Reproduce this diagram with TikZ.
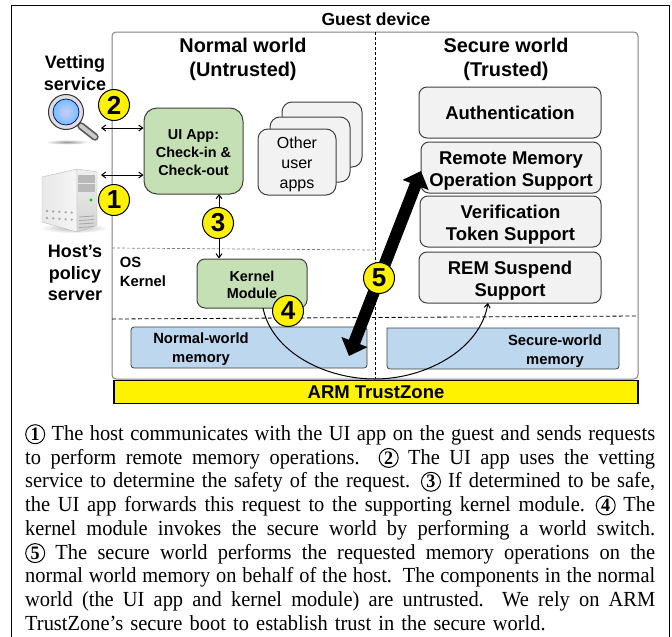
\documentclass[tikz,border=0pt]{standalone}
\usepackage{fontspec}
\setmainfont[FakeStretch=0.95]{Liberation Serif}
\newfontfamily\lsans{Liberation Sans}
\usetikzlibrary{arrows.meta,shadings}
\definecolor{appgreen}{HTML}{C5E0B4}
\definecolor{boxgray}{HTML}{F2F2F2}
\definecolor{memblue}{HTML}{BDD7EE}
\definecolor{edgegray}{HTML}{404040}
\tikzset{
  x=1pt,y=-1pt,
  pxbox/.style={draw=edgegray,line width=1pt,rounded corners=#1},
  pxbox/.default=8pt,
  greenbox/.style={pxbox,fill=appgreen,align=center,font=\lsans\bfseries\fontsize{14.4}{17.7}\selectfont},
  graybox/.style={pxbox,fill=boxgray,align=center,font=\lsans\bfseries\fontsize{18.5}{22.8}\selectfont},
  appbox/.style={pxbox=10pt,fill=boxgray,align=center,font=\lsans\fontsize{16}{20}\selectfont},
  membox/.style={draw=edgegray,line width=.8pt,fill=memblue},
  lab/.style={align=center,font=\lsans\bfseries\fontsize{18}{21.5}\selectfont},
  small/.style={align=center,font=\lsans\bfseries\fontsize{14.8}{19.5}\selectfont},
  title/.style={align=center,font=\lsans\bfseries\fontsize{19.9}{24}\selectfont},
  badge/.style={circle,draw=black,line width=1pt,fill=yellow,minimum size=31pt,inner sep=0pt,font=\lsans\bfseries\fontsize{26}{26}\selectfont},
  dbl/.style={{Straight Barb[length=4pt,width=6pt]}-{Straight Barb[length=4pt,width=6pt]},line width=1pt},
}
\newcommand{\cnum}[1]{\tikz[baseline=(cn.base)]\node[circle,draw,line width=1pt,inner sep=.4pt,minimum size=19pt,font=\bfseries\fontsize{19}{19}\selectfont](cn){#1};}
\newcommand{\tline}[1]{\hbox to 630pt{\spaceskip=.25em plus .3em minus .1em\relax #1}}
\begin{document}
\begin{tikzpicture}
\useasboundingbox (0,0) rectangle (672,637);
\clip (0,0) rectangle (672,637);
\fill[white] (0,0) rectangle (672,637);
\draw[black,line width=1pt] (11,5) rectangle (669,660);
\node[font=\lsans\bfseries\fontsize{17.5}{17.5}\selectfont] (guest) at (376,19.5) {Guest device};
% panel
\draw[gray,line width=1pt,rounded corners=4pt] (112,32) rectangle (638,379);
\coordinate (vt) at (375,32); \coordinate (vb) at (375,379);
\draw[dashed,line width=.7pt,dash pattern=on 3pt off 2pt] (vt) -- (vb);
\coordinate (h1a) at (112,248); \coordinate (h1b) at (375,250);
\draw[gray,line width=.7pt,dash pattern=on 3pt off 2pt] (h1a) -- (h1b);
\coordinate (h2a) at (112,319); \coordinate (h2b) at (638,316);
\draw[line width=.8pt,dash pattern=on 4pt off 2.5pt] (h2a) -- (h2b);
\node[title] (nw) at (243,59) {Normal world\\(Untrusted)};
\node[title] (sw) at (506,59) {Secure world\\(Trusted)};
\node[small,align=left] (os) at (143,272) {OS\\Kernel};
% boxes
\node[greenbox,pxbox=13pt,minimum width=99pt,minimum height=86pt,inner sep=0pt] (ui) at (193.5,151) {\rule{0pt}{13pt}UI App:\\Check-in \&\\Check-out};
\node[appbox,minimum width=80pt,minimum height=65pt,inner sep=0pt] (a3) at (322,134.5) {};
\node[appbox,minimum width=80pt,minimum height=65pt,inner sep=0pt] (a2) at (310,149.5) {};
\node[appbox,minimum width=78pt,minimum height=66pt,inner sep=0pt] (a1) at (297,162) {\rule{0pt}{17pt}Other\\user\\apps};
\node[greenbox,minimum width=110pt,minimum height=49pt,inner sep=0pt] (km) at (252,283.5) {\rule{0pt}{13pt}Kernel\\Module};
\node[graybox,minimum width=182pt,minimum height=51pt,inner sep=0pt] (auth) at (510,112.5) {Authentication};
\node[graybox,minimum width=180pt,minimum height=51pt,inner sep=0pt] (rm) at (511,167.5) {\rule{0pt}{20pt}Remote Memory\\Operation Support};
\node[graybox,minimum width=181pt,minimum height=51pt,inner sep=0pt] (vf) at (510.5,221.5) {\rule{0pt}{20pt}Verification\\Token Support};
\node[graybox,minimum width=182pt,minimum height=51pt,inner sep=0pt] (rem) at (510,277.5) {\rule{0pt}{20pt}REM Suspend\\Support};
% memory
\draw[membox,rounded corners=0pt] (131,368) -- (131,330) [rounded corners=3pt] -- (131,327) -- (367,327) -- (367,368) -- cycle;
\draw[membox,rounded corners=0pt] (387,369) -- (387,328) -- (619,328) [rounded corners=3pt] -- (619,369) -- cycle;
\node[small] (nm) at (201,349) {Normal-world\\memory};
\node[small] (sm) at (555,351) {Secure-world\\memory};
\node[draw=black,line width=1.2pt,fill=yellow,minimum width=524pt,minimum height=23pt,inner sep=0pt,font=\lsans\bfseries\fontsize{18.5}{18.5}\selectfont] (tz) at (376,392) {ARM TrustZone};
% magnifier
\shade[inner color=gray!80,outer color=white] (67,142) ellipse (22 and 2.5);
\draw[gray!70!black,line width=7.5pt,line cap=round] (81,126) -- (95,137);
\draw[gray!40,line width=4pt,line cap=round] (81,126) -- (95,137);
\node[circle,draw=gray!40!black,line width=1pt,fill=gray!25,minimum size=35pt,inner sep=0pt] (ring) at (66,112) {};
\node[circle,draw=blue!50!black,line width=.7pt,inner color=white!80!blue,outer color=blue!45!cyan!55!white,minimum size=26pt,inner sep=0pt] (lens) at (66,112) {};
\coordinate (magr) at (101,128);
% server
\shade[inner color=gray!60,outer color=white] (74,228) ellipse (34 and 5);
\shade[left color=gray!18,right color=gray!8,draw=gray!55,line width=.4pt] (42,177) -- (77,169) -- (77,232) -- (42,222) -- cycle;
\shade[top color=gray!12,bottom color=gray!35,draw=gray!55,line width=.4pt] (77,169) -- (97,172) -- (97,225) -- (77,232) -- cycle;
\fill[gray!55] (78,175) -- (95,175) -- (95,183) -- (78,183) -- cycle;
\fill[gray!55] (78,184) -- (95,184) -- (95,192) -- (78,192) -- cycle;
\fill[green!80!black] (91,200) circle (1.7);
\foreach \i in {0,1,2,3,4}{
  \fill[gray!70] (47+\i*6.2,211+\i*.4) circle (1.3);
  \fill[gray!70] (47+\i*6.2,218+\i*.4) circle (1.3);
}
\foreach \i in {0,1,2,3}{ \draw[gray!70,line width=.8pt] (79,217+\i*3.5) -- (94,216+\i*3.5); }
\coordinate (srvr) at (101,175);
\node[lab] (vet) at (75,73) {Vetting\\service};
\node[lab] (host) at (75,273) {Host’s\\policy\\server};
% arrows
\coordinate (uil1) at (ui.west |- magr);
\coordinate (uil2) at (ui.west |- srvr);
\draw[dbl] (magr) -- (uil1);
\draw[dbl] (srvr) -- (uil2);
\coordinate (k3) at (219,258.5);
\coordinate (u3) at (219,194);
\draw[dbl] (u3) -- (k3);
\coordinate (c1) at (263,308);
\coordinate (c2) at (488,303);
\draw[-{Straight Barb[length=4pt,width=6pt]},line width=1pt] (c1) .. controls (272,352) and (325,379) .. (375,379) .. controls (425,379) and (480,350) .. (c2);
\coordinate (b1) at (349,356);
\coordinate (b2) at (421,171);
\draw[{Triangle[length=15pt,width=27pt]}-{Triangle[length=15pt,width=27pt]},line width=12pt,black] (b1) -- (b2);
% badges
\node[badge] (n2) at (114,105) {2};
\node[badge] (n1) at (114,200) {1};
\node[badge] (n3) at (218,223) {3};
\node[badge] (n4) at (288,311) {4};
\node[badge] (n5) at (379,278) {5};
% caption
\node[anchor=north west,inner sep=0pt,text width=630pt,font=\fontsize{21.5}{23.75}\selectfont] (cap) at (25,424) {\parskip=0pt\baselineskip=23.75pt\lineskip=0pt\lineskiplimit=-20pt
\tline{\cnum{1} The host communicates with the UI app on the guest and sends requests}
\tline{to perform remote memory operations.\ \ \cnum{2} The UI app uses the vetting}
\tline{service to determine the safety of the request. \cnum{3} If determined to be safe,}
\tline{the UI app forwards this request to the supporting kernel module. \cnum{4} The}
\tline{kernel module invokes the secure world by performing a world switch.}
\tline{\cnum{5} The secure world performs the requested memory operations on the}
\tline{normal world memory on behalf of the host. The components in the normal}
\tline{world (the UI app and kernel module) are untrusted.\ \ We rely on ARM}
\hbox{TrustZone’s secure boot to establish trust in the secure world.}};
\end{tikzpicture}
\end{document}
